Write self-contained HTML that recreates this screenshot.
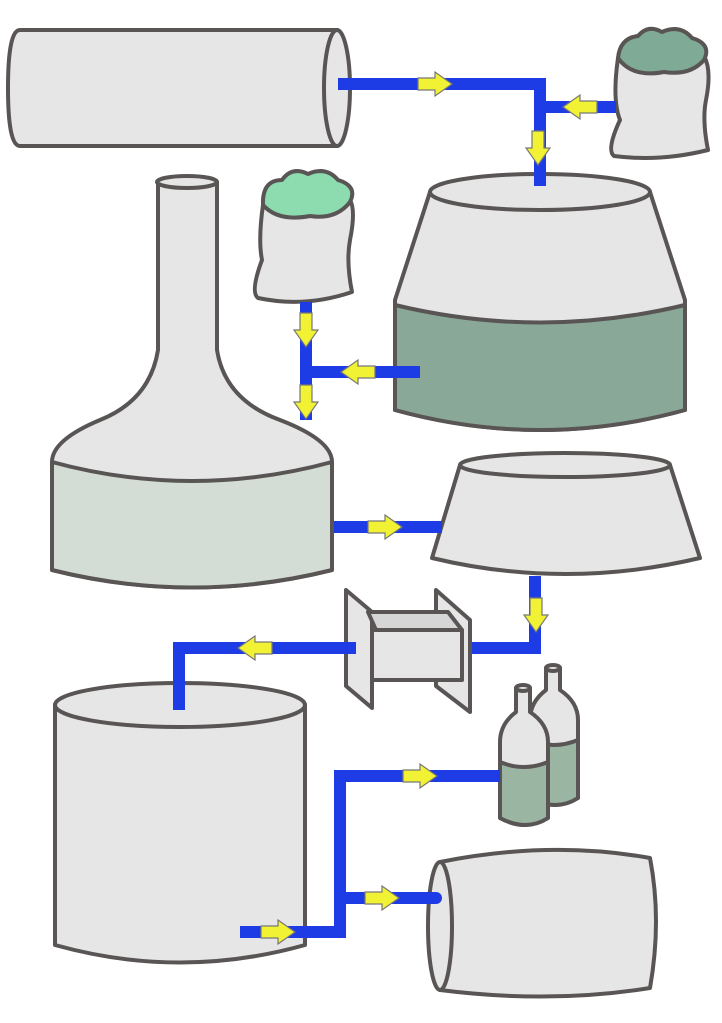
<!DOCTYPE html>
<html><head><meta charset="utf-8"><style>html,body{margin:0;padding:0;background:#fff}svg{display:block}</style></head>
<body>
<svg width="722" height="1023" viewBox="0 0 722 1023" xmlns="http://www.w3.org/2000/svg">
<defs>
<g id="ar"><polygon points="-17,-6 0,-6 0,-12 17,0 0,12 0,6 -17,6" fill="#f2f234" stroke="#777" stroke-width="1.2"/></g>
</defs>
<g stroke="#5a5555" stroke-width="4" fill="#e6e6e6" stroke-linejoin="round">
<path d="M20,30 L337,30 L337,146 L20,146 Q8,146 8,88 Q8,30 20,30 Z"/>
<ellipse cx="337" cy="88" rx="13" ry="58"/>
<path d="M618,58 Q612,100 620,120 Q606,150 614,156 Q660,162 708,150 Q702,120 706,100 Q712,70 704,56 Z"/>
<path d="M618,58 Q620,38 638,36 Q648,24 662,32 Q680,24 692,38 Q712,44 704,60 Q690,76 664,72 Q632,78 618,58 Z" fill="#7faa96"/>
<path d="M430,192 L395,300 L395,410 Q540,450 685,410 L685,300 L650,192 Z"/>
<path d="M395,305 Q540,340 685,305 L685,410 Q540,450 395,410 Z" fill="#8aa898"/>
<ellipse cx="540" cy="192" rx="110" ry="18"/>
<path d="M158,182 L158,350 Q150,400 100,420 Q52,440 52,462 L52,570 Q192,605 332,570 L332,462 Q332,440 280,420 Q225,400 217,350 L217,182 Z"/>
<path d="M52,462 Q192,500 332,462 L332,570 Q192,605 52,570 Z" fill="#d3ddd6"/>
<ellipse cx="187" cy="182" rx="30" ry="6"/>
<path d="M263,205 Q258,240 262,260 Q250,292 258,298 Q305,308 352,292 Q346,262 350,240 Q356,210 350,200 Z"/>
<path d="M263,205 Q262,180 282,180 Q292,166 308,174 Q326,166 338,180 Q358,186 350,202 Q336,220 310,216 Q278,222 263,205 Z" fill="#8cdcb0"/>
<path d="M460,465 L432,558 Q565,590 700,558 L670,465 Z"/>
<ellipse cx="565" cy="465" rx="105" ry="12"/>
<polygon points="346,590 372,612 372,708 346,686"/>
<polygon points="436,590 470,620 470,712 436,686"/>
<polygon points="368,612 448,612 462,630 376,630" fill="#d6d6d6"/>
<rect x="372" y="630" width="90" height="50"/>
<path d="M55,705 L55,945 Q180,980 305,945 L305,705 Z"/>
<ellipse cx="180" cy="705" rx="125" ry="22"/>
<path d="M546,668 L546,690 Q530,702 530,720 L530,798 Q556,812 578,798 L578,720 Q578,702 560,690 L560,668 Z"/>
<path d="M530,740 Q554,750 578,740 L578,798 Q556,812 530,798 Z" fill="#9bb5a3"/>
<ellipse cx="553" cy="668" rx="7" ry="3"/>
<path d="M516,688 L516,712 Q500,724 500,742 L500,818 Q526,832 548,818 L548,742 Q548,724 530,712 L530,688 Z"/>
<path d="M500,762 Q524,772 548,762 L548,818 Q526,832 500,818 Z" fill="#9bb5a3"/>
<ellipse cx="523" cy="688" rx="7" ry="3"/>
<path d="M440,862 Q550,840 650,858 Q662,920 650,988 Q550,1004 440,990 Z"/>
<ellipse cx="440" cy="926" rx="12" ry="64"/>
</g>
<g fill="none" stroke="#1e3ce6" stroke-width="12">
<polyline points="338,84 540,84 540,186"/>
<line x1="540" y1="107" x2="616" y2="107"/>
<polyline points="306,302 306,420"/>
<line x1="306" y1="372" x2="420" y2="372"/>
<line x1="334" y1="527" x2="442" y2="527"/>
<polyline points="535,576 535,648 472,648"/>
<polyline points="356,648 179,648 179,710"/>
<polyline points="240,932 340,932 340,776 500,776"/>
<line x1="340" y1="898" x2="436" y2="898" stroke-linecap="round"/>
</g>
<use href="#ar" transform="translate(435,84)"/>
<use href="#ar" transform="translate(580,107) rotate(180)"/>
<use href="#ar" transform="translate(538,148) rotate(90)"/>
<use href="#ar" transform="translate(306,330) rotate(90)"/>
<use href="#ar" transform="translate(358,372) rotate(180)"/>
<use href="#ar" transform="translate(306,402) rotate(90)"/>
<use href="#ar" transform="translate(385,527)"/>
<use href="#ar" transform="translate(536,615) rotate(90)"/>
<use href="#ar" transform="translate(255,648) rotate(180)"/>
<use href="#ar" transform="translate(420,776)"/>
<use href="#ar" transform="translate(382,898)"/>
<use href="#ar" transform="translate(278,932)"/>
</svg>
</body></html>
